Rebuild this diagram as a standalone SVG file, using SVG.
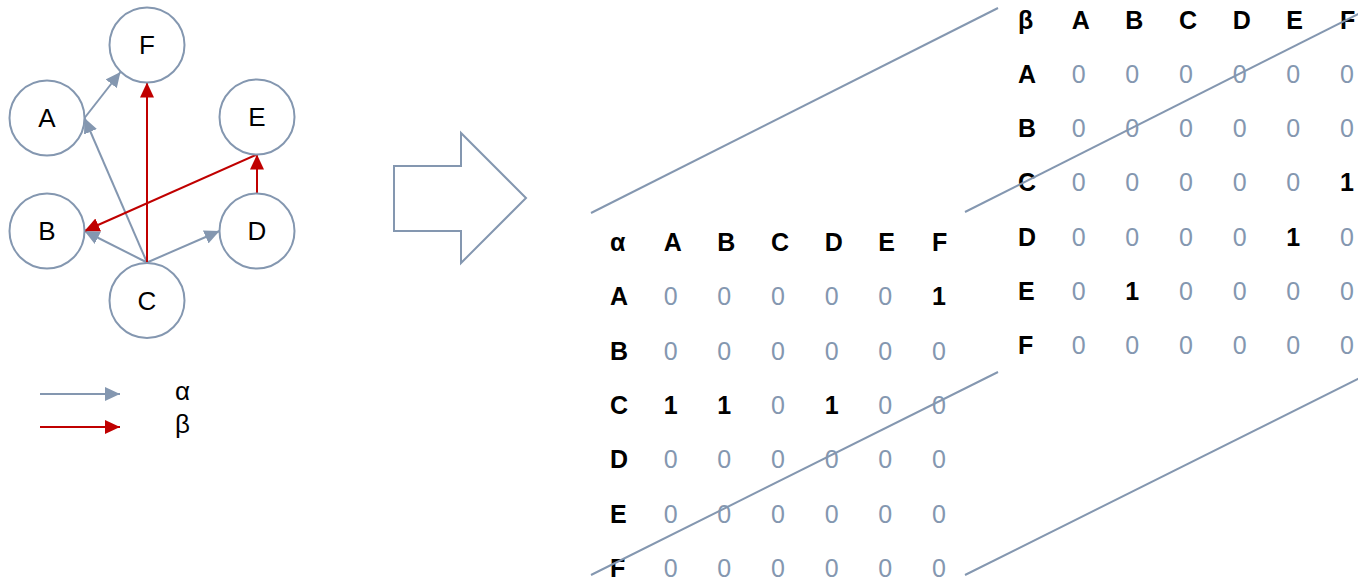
<svg xmlns="http://www.w3.org/2000/svg" width="1358" height="579" viewBox="0 0 1358 579">
  <style>
    .node circle { fill: #ffffff; stroke: #8497B0; stroke-width: 2; }
    .node text { font-family: "Liberation Sans", Arial, sans-serif; font-size: 26px; fill: #000000; text-anchor: middle; }
    .alpha { stroke: #8497B0; stroke-width: 2; fill: none; marker-end: url(#arrowGray); }
    .beta { stroke: #C00000; stroke-width: 2; fill: none; marker-end: url(#arrowRed); }
    .legend { font-family: "Liberation Sans", Arial, sans-serif; font-size: 26px; fill: #000000; }
    .hdr { font-family: "Liberation Sans", Arial, sans-serif; font-size: 25px; font-weight: bold; fill: #000000; }
    .zero { font-family: "Liberation Sans", Arial, sans-serif; font-size: 25px; fill: #8497B0; }
    .one { font-family: "Liberation Sans", Arial, sans-serif; font-size: 25px; font-weight: bold; fill: #000000; }
    .edge { stroke: #8497B0; stroke-width: 2; fill: none; }
  </style>
  <defs>
    <marker id="arrowGray" markerUnits="userSpaceOnUse" markerWidth="16" markerHeight="14" refX="15" refY="7" orient="auto">
      <path d="M0,0 L15,7 L0,14 Z" fill="#8497B0"/>
    </marker>
    <marker id="arrowRed" markerUnits="userSpaceOnUse" markerWidth="16" markerHeight="14" refX="15" refY="7" orient="auto">
      <path d="M0,0 L15,7 L0,14 Z" fill="#C00000"/>
    </marker>
  </defs>

  <rect width="1358" height="579" fill="#ffffff"/>

  <!-- graph connectors -->
  <g id="connectors">
    <line class="alpha" x1="84.5" y1="118" x2="120.5" y2="72"/>
    <line class="alpha" x1="147" y1="262.5" x2="84.5" y2="118"/>
    <line class="alpha" x1="147" y1="262.5" x2="84.5" y2="231"/>
    <line class="alpha" x1="147" y1="262.5" x2="219.5" y2="231"/>
    <line class="beta" x1="147" y1="262.5" x2="147" y2="82.5"/>
    <line class="beta" x1="257" y1="193.5" x2="257" y2="154.5"/>
    <line class="beta" x1="257" y1="154.5" x2="84.5" y2="231"/>
  </g>

  <!-- graph nodes -->
  <g id="node-F" class="node"><circle cx="147" cy="45" r="37.5"/><text x="147" y="54">F</text></g>
  <g id="node-A" class="node"><circle cx="47" cy="118" r="37.5"/><text x="47" y="127">A</text></g>
  <g id="node-E" class="node"><circle cx="257" cy="117" r="37.5"/><text x="257" y="126">E</text></g>
  <g id="node-B" class="node"><circle cx="47" cy="231" r="37.5"/><text x="47" y="240">B</text></g>
  <g id="node-D" class="node"><circle cx="257" cy="231" r="37.5"/><text x="257" y="240">D</text></g>
  <g id="node-C" class="node"><circle cx="147" cy="300.5" r="37.5"/><text x="147" y="309.5">C</text></g>

  <!-- legend -->
  <g id="legend">
    <line class="alpha" x1="40" y1="394" x2="120" y2="394"/>
    <line class="beta" x1="40" y1="427" x2="120" y2="427"/>
    <text class="legend" x="175" y="400">α</text>
    <text class="legend" x="175" y="433">β</text>
  </g>

  <!-- transform arrow -->
  <g id="transform-arrow">
    <polygon points="394,166 461,166 461,133 526,198 461,263 461,231 394,231" fill="#ffffff" stroke="#8497B0" stroke-width="2"/>
  </g>

  <!-- beta matrix (back layer) -->
  <g id="matrix-beta">
    <text class="hdr" x="1018" y="28.5">β</text>
    <text class="hdr" x="1071.7" y="28.5">A</text>
    <text class="hdr" x="1125.3" y="28.5">B</text>
    <text class="hdr" x="1179" y="28.5">C</text>
    <text class="hdr" x="1232.7" y="28.5">D</text>
    <text class="hdr" x="1286.3" y="28.5">E</text>
    <text class="hdr" x="1340" y="28.5">F</text>

    <text class="hdr" x="1018" y="82.8">A</text>
    <text class="zero" x="1071.7" y="82.8">0</text><text class="zero" x="1125.3" y="82.8">0</text><text class="zero" x="1179" y="82.8">0</text><text class="zero" x="1232.7" y="82.8">0</text><text class="zero" x="1286.3" y="82.8">0</text><text class="zero" x="1340" y="82.8">0</text>

    <text class="hdr" x="1018" y="137.1">B</text>
    <text class="zero" x="1071.7" y="137.1">0</text><text class="zero" x="1125.3" y="137.1">0</text><text class="zero" x="1179" y="137.1">0</text><text class="zero" x="1232.7" y="137.1">0</text><text class="zero" x="1286.3" y="137.1">0</text><text class="zero" x="1340" y="137.1">0</text>

    <text class="hdr" x="1018" y="191.4">C</text>
    <text class="zero" x="1071.7" y="191.4">0</text><text class="zero" x="1125.3" y="191.4">0</text><text class="zero" x="1179" y="191.4">0</text><text class="zero" x="1232.7" y="191.4">0</text><text class="zero" x="1286.3" y="191.4">0</text><text class="one" x="1340" y="191.4">1</text>

    <text class="hdr" x="1018" y="245.7">D</text>
    <text class="zero" x="1071.7" y="245.7">0</text><text class="zero" x="1125.3" y="245.7">0</text><text class="zero" x="1179" y="245.7">0</text><text class="zero" x="1232.7" y="245.7">0</text><text class="one" x="1286.3" y="245.7">1</text><text class="zero" x="1340" y="245.7">0</text>

    <text class="hdr" x="1018" y="300">E</text>
    <text class="zero" x="1071.7" y="300">0</text><text class="one" x="1125.3" y="300">1</text><text class="zero" x="1179" y="300">0</text><text class="zero" x="1232.7" y="300">0</text><text class="zero" x="1286.3" y="300">0</text><text class="zero" x="1340" y="300">0</text>

    <text class="hdr" x="1018" y="354.3">F</text>
    <text class="zero" x="1071.7" y="354.3">0</text><text class="zero" x="1125.3" y="354.3">0</text><text class="zero" x="1179" y="354.3">0</text><text class="zero" x="1232.7" y="354.3">0</text><text class="zero" x="1286.3" y="354.3">0</text><text class="zero" x="1340" y="354.3">0</text>
  </g>

  <!-- alpha matrix (front layer) -->
  <g id="matrix-alpha">
    <text class="hdr" x="610" y="251">α</text>
    <text class="hdr" x="663.7" y="251">A</text>
    <text class="hdr" x="717.3" y="251">B</text>
    <text class="hdr" x="771" y="251">C</text>
    <text class="hdr" x="824.7" y="251">D</text>
    <text class="hdr" x="878.3" y="251">E</text>
    <text class="hdr" x="932" y="251">F</text>

    <text class="hdr" x="610" y="305.3">A</text>
    <text class="zero" x="663.7" y="305.3">0</text><text class="zero" x="717.3" y="305.3">0</text><text class="zero" x="771" y="305.3">0</text><text class="zero" x="824.7" y="305.3">0</text><text class="zero" x="878.3" y="305.3">0</text><text class="one" x="932" y="305.3">1</text>

    <text class="hdr" x="610" y="359.6">B</text>
    <text class="zero" x="663.7" y="359.6">0</text><text class="zero" x="717.3" y="359.6">0</text><text class="zero" x="771" y="359.6">0</text><text class="zero" x="824.7" y="359.6">0</text><text class="zero" x="878.3" y="359.6">0</text><text class="zero" x="932" y="359.6">0</text>

    <text class="hdr" x="610" y="413.9">C</text>
    <text class="one" x="663.7" y="413.9">1</text><text class="one" x="717.3" y="413.9">1</text><text class="zero" x="771" y="413.9">0</text><text class="one" x="824.7" y="413.9">1</text><text class="zero" x="878.3" y="413.9">0</text><text class="zero" x="932" y="413.9">0</text>

    <text class="hdr" x="610" y="468.2">D</text>
    <text class="zero" x="663.7" y="468.2">0</text><text class="zero" x="717.3" y="468.2">0</text><text class="zero" x="771" y="468.2">0</text><text class="zero" x="824.7" y="468.2">0</text><text class="zero" x="878.3" y="468.2">0</text><text class="zero" x="932" y="468.2">0</text>

    <text class="hdr" x="610" y="522.5">E</text>
    <text class="zero" x="663.7" y="522.5">0</text><text class="zero" x="717.3" y="522.5">0</text><text class="zero" x="771" y="522.5">0</text><text class="zero" x="824.7" y="522.5">0</text><text class="zero" x="878.3" y="522.5">0</text><text class="zero" x="932" y="522.5">0</text>

    <text class="hdr" x="610" y="576.8">F</text>
    <text class="zero" x="663.7" y="576.8">0</text><text class="zero" x="717.3" y="576.8">0</text><text class="zero" x="771" y="576.8">0</text><text class="zero" x="824.7" y="576.8">0</text><text class="zero" x="878.3" y="576.8">0</text><text class="zero" x="932" y="576.8">0</text>
  </g>

  <!-- depth edges joining the two matrix layers -->
  <g id="depth-edges">
    <line class="edge" x1="591" y1="213" x2="998" y2="8"/>
    <line class="edge" x1="965" y1="212" x2="1372" y2="7"/>
    <line class="edge" x1="591" y1="575" x2="998" y2="372"/>
    <line class="edge" x1="965" y1="575" x2="1372" y2="372"/>
  </g>
</svg>
